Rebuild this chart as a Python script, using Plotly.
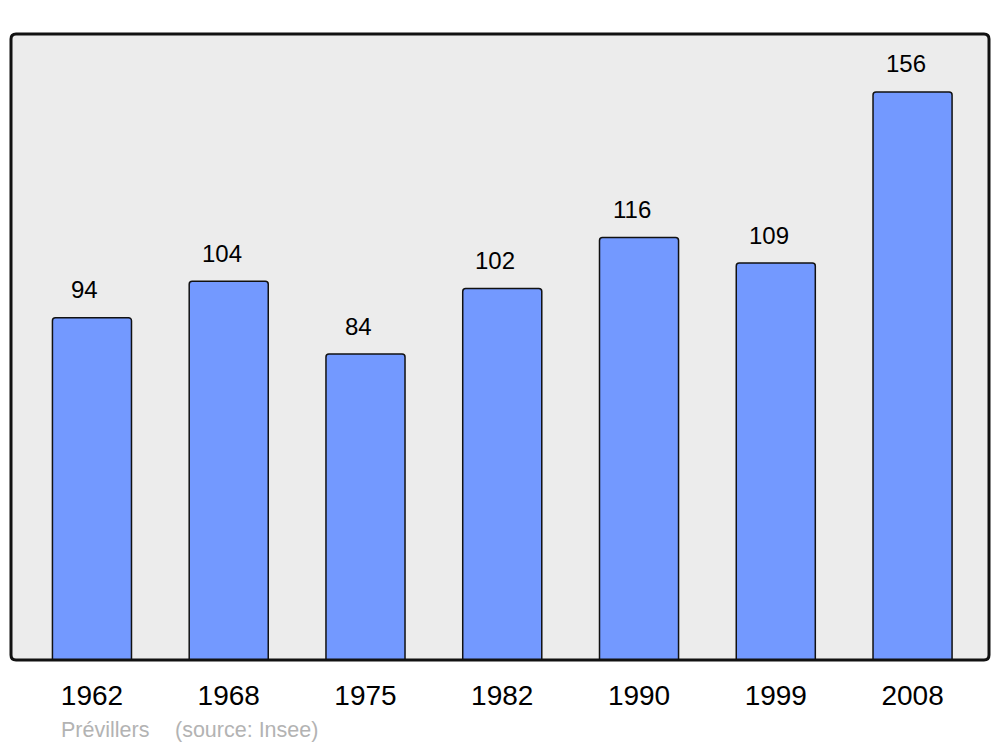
import plotly.graph_objects as go

years = ["1962", "1968", "1975", "1982", "1990", "1999", "2008"]
population = [94, 104, 84, 102, 116, 109, 156]
commune = "Prévillers"
source = "(source: Insee)"

# page body has an 8px margin; figure is sized/placed to compensate
OFF = 8
W, H = 1000 - OFF, 747 - OFF
ml, mt = 11 - OFF, 34 - OFF
mr = W - (989 - OFF)
mb = H - (660 - OFF)
pw, ph = W - ml - mr, H - mt - mb
FONT = "Liberation Sans, Arial, sans-serif"

fig = go.Figure()
fig.add_trace(go.Bar(
    x=years, y=population, width=0.578,
    marker=dict(color="#7399ff", line=dict(color="#111111", width=1.5)),
    hoverinfo="skip",
))

for i, v in enumerate(population):
    fig.add_annotation(x=i, y=v, text=str(v), showarrow=False,
                       xshift=-7, yshift=28, yanchor="middle",
                       font=dict(family=FONT, size=24, color="#000"))

# rounded frame
rx, ry = 5 / pw, 5 / ph
path = (f"M {rx},0 L {1-rx},0 Q 1,0 1,{ry} L 1,{1-ry} Q 1,1 {1-rx},1 "
        f"L {rx},1 Q 0,1 0,{1-ry} L 0,{ry} Q 0,0 {rx},0 Z")
fig.add_shape(type="path", xref="paper", yref="paper", path=path,
              line=dict(color="#111111", width=3), layer="above")

fig.add_annotation(xref="paper", yref="paper", x=(59 - 11) / pw, y=0, yshift=-70,
                   xanchor="left", yanchor="middle", showarrow=False, text=commune,
                   font=dict(family=FONT, size=21.5, color="#b3b3b3"))
fig.add_annotation(xref="paper", yref="paper", x=(173 - 11) / pw, y=0, yshift=-70,
                   xanchor="left", yanchor="middle", showarrow=False, text=source,
                   font=dict(family=FONT, size=21.5, color="#b3b3b3"))

fig.update_layout(
    width=W, height=H,
    margin=dict(l=ml, r=mr, t=mt, b=mb, autoexpand=False),
    paper_bgcolor="white", plot_bgcolor="#ececec",
    showlegend=False, barcornerradius=3,
    xaxis=dict(type="category", range=[-0.592, 6.559], showgrid=False, zeroline=False,
               showline=False, ticks="", ticklabelstandoff=16,
               tickfont=dict(family=FONT, size=28, color="#000")),
    yaxis=dict(range=[0, 171.9], showgrid=False, zeroline=False, showline=False,
               showticklabels=False, ticks=""),
)
fig.write_html("out.html")
